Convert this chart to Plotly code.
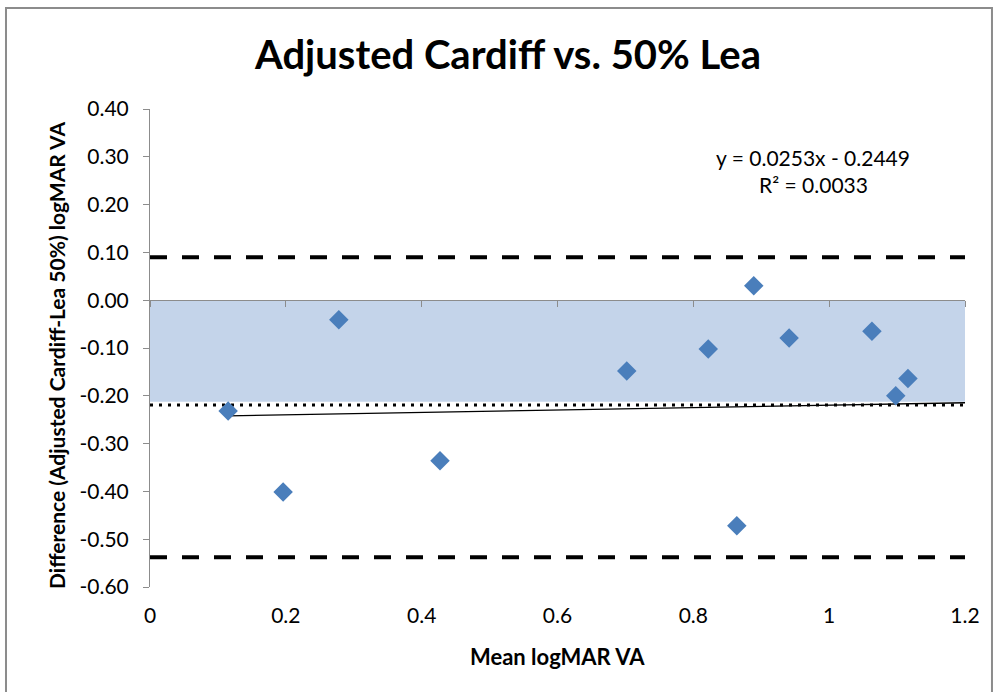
import plotly.graph_objects as go

# Data
mean_va = [0.115, 0.196, 0.278, 0.427, 0.702, 0.822, 0.864, 0.889, 0.941, 1.063, 1.098, 1.116]
diff_va = [-0.232, -0.401, -0.041, -0.336, -0.148, -0.102, -0.472, 0.030, -0.079, -0.065, -0.200, -0.164]

mean_diff = -0.219
upper_loa = 0.090
lower_loa = -0.538
shade_low = -0.2125
slope, intercept = 0.0253, -0.2449
x_range = [0, 1.2]
y_ticks = [0.4, 0.3, 0.2, 0.1, 0.0, -0.1, -0.2, -0.3, -0.4, -0.5, -0.6]
y_ticktext = ["0.40", "0.30", "0.20", "0.10", "0.00", "-0.10", "-0.20", "-0.30", "-0.40", "-0.50", "-0.60"]

FONT = "Lato"
fig = go.Figure()

# limit-of-agreement lines
for lvl in (upper_loa, lower_loa):
    fig.add_trace(go.Scatter(x=x_range, y=[lvl, lvl], mode="lines",
                             line=dict(color="black", width=4, dash="17px,15px"),
                             hoverinfo="skip", showlegend=False))
fig.add_trace(go.Scatter(x=x_range, y=[mean_diff, mean_diff], mode="lines",
                         line=dict(color="black", width=3, dash="3px,6px"),
                         hoverinfo="skip", showlegend=False))

# trendline
tx = [min(mean_va), x_range[1]]
fig.add_trace(go.Scatter(x=tx, y=[slope * v + intercept for v in tx], mode="lines",
                         line=dict(color="black", width=1.3),
                         hoverinfo="skip", showlegend=False))

# points
fig.add_trace(go.Scatter(x=mean_va, y=diff_va, mode="markers",
                         marker=dict(symbol="diamond", size=15, color="#4A7EBB",
                                     line=dict(width=0)),
                         showlegend=False))

# dummy trace for the zero-crossing x axis
fig.add_trace(go.Scatter(x=x_range, y=[0, 0], xaxis="x2", mode="lines",
                         line=dict(width=0), opacity=0, hoverinfo="skip", showlegend=False))

fig.add_shape(type="rect", x0=x_range[0], x1=x_range[1], y0=0, y1=shade_low,
              xref="x", yref="y", fillcolor="#C4D4EA", line=dict(width=0), layer="below")

# outer frame
fig.add_shape(type="rect", xref="paper", yref="paper",
              x0=-0.1767, x1=1.0331, y0=-0.25, y1=1.2113,
              line=dict(color="#8C8C8C", width=2), fillcolor="rgba(0,0,0,0)")

fig.update_layout(
    width=994, height=692,
    margin=dict(l=150, r=29, t=109, b=105),
    paper_bgcolor="white", plot_bgcolor="white",
    title=dict(text="<b>Adjusted Cardiff vs. 50% Lea</b>", x=508 / 994, xref="container",
               xanchor="center", y=1 - 55 / 692, yref="container", yanchor="middle",
               font=dict(family=FONT, size=40, color="black")),
    xaxis=dict(range=x_range, dtick=0.2, tick0=0, showgrid=False, zeroline=False,
               showline=False, ticks="", ticklabelstandoff=14,
               tickfont=dict(family=FONT, size=21, color="black")),
    xaxis2=dict(range=x_range, dtick=0.2, tick0=0, overlaying="x", anchor="free",
                position=0.6, side="bottom", showgrid=False, zeroline=False,
                showline=True, linecolor="#8C8C8C", linewidth=1,
                ticks="outside", ticklen=6, tickcolor="#8C8C8C",
                showticklabels=False),
    yaxis=dict(range=[-0.6, 0.4], tickvals=y_ticks, ticktext=y_ticktext,
               showgrid=False, zeroline=False, showline=True, linecolor="#8C8C8C",
               linewidth=1, ticks="outside", ticklen=6, tickcolor="#8C8C8C",
               ticklabelstandoff=10,
               tickfont=dict(family=FONT, size=21, color="black")),
    annotations=[
        dict(text="<b>Difference (Adjusted Cardiff-Lea 50%) logMAR VA</b>", textangle=-90,
             xref="paper", yref="paper", x=(56 - 150) / 815, y=(587 - 356) / 478,
             xanchor="center", yanchor="middle",
             showarrow=False, font=dict(family=FONT, size=21, color="black")),
        dict(text="<b>Mean logMAR VA</b>", xref="paper", yref="paper",
             x=(557 - 150) / 815, y=(587 - 656) / 478, showarrow=False,
             xanchor="center", yanchor="middle",
             font=dict(family=FONT, size=22, color="black")),
        dict(text="y = 0.0253x - 0.2449", xref="paper", yref="paper",
             x=(813 - 150) / 815, y=(587 - 157) / 478, showarrow=False,
             xanchor="center", yanchor="middle",
             font=dict(family=FONT, size=21, color="black")),
        dict(text="R² = 0.0033", xref="paper", yref="paper",
             x=(813 - 150) / 815, y=(587 - 184) / 478, showarrow=False,
             xanchor="center", yanchor="middle",
             font=dict(family=FONT, size=21, color="black")),
    ],
)

fig.write_html("out.html")
